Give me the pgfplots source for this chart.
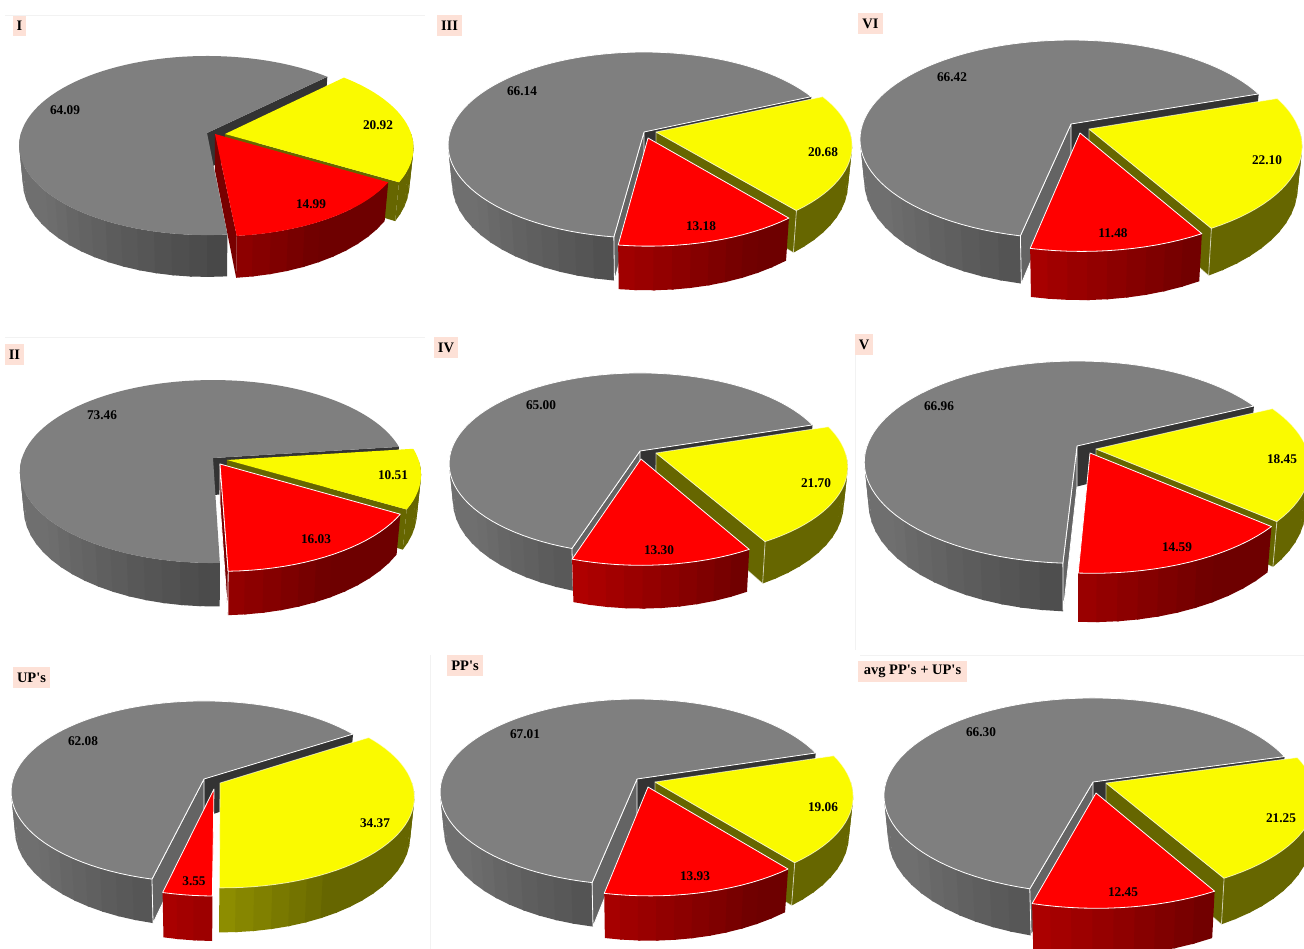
\documentclass[border=0pt]{standalone}
\usepackage{fontspec}
\setmainfont{Liberation Serif}
\usepackage{pgfplots}
\pgfplotsset{compat=1.18}

\definecolor{topGray}{HTML}{7F7F7F}
\definecolor{topYellow}{HTML}{FAFA00}
\definecolor{topRed}{HTML}{FF0000}
\definecolor{faceDark}{HTML}{333333}
\definecolor{faceGray}{HTML}{646464}
\definecolor{faceOlive}{HTML}{666600}
\definecolor{faceRed}{HTML}{780000}
\definecolor{tagFill}{HTML}{FDE1D7}
\definecolor{panelLine}{HTML}{F2F2F2}

% Perspective projection of the unit disc of one pie onto the page.
\newcommand{\addpt}[3]{% u, v, depth 0 (top face) or 1 (bottom face)
  \pgfmathsetmacro\pww{1+\pP*(#2)}%
  \pgfmathsetmacro\pxx{\pOx+(1-0.02*#3)*\pR*(#1)/\pww}%
  \pgfmathsetmacro\pyy{\pOy-\pB*(#2)/\pww+#3*\pH/\pww}%
  \xdef\coords{\coords (\pxx,\pyy)}%
}
\newcommand{\addrim}[4]{% angle, u0, v0, depth
  \pgfmathsetmacro\puu{#2+cos(#1)}%
  \pgfmathsetmacro\pvv{#3+sin(#1)}%
  \addpt{\puu}{\pvv}{#4}%
}
% Disc coordinates of a slice apex given in page coordinates.
\newcommand{\unproject}[4]{% X, Y, result u, result v
  \pgfmathsetmacro\paa{((#1)-\pOx)/\pR}%
  \pgfmathsetmacro\pbb{(\pOy-(#2))/\pB}%
  \pgfmathsetmacro#4{\pbb/(1-\pP*\pbb)}%
  \pgfmathsetmacro#3{\paa*(1+\pP*#4)}%
}
% Top face of a slice.
\newcommand{\slicetop}[6]{% u0, v0, angle a, angle b, fill, edge opacity
  \gdef\coords{}%
  \addpt{#1}{#2}{0}%
  \pgfmathtruncatemacro\pnn{ceil(abs((#4)-(#3))/3)}%
  \foreach \i in {0,...,\pnn}{%
    \pgfmathsetmacro\pth{(#3)+((#4)-(#3))/\pnn*\i}%
    \addrim{\pth}{#1}{#2}{0}%
  }%
  \edef\doplot{\noexpand\addplot[forget plot,fill=#5,draw=white,draw opacity=#6,line width=0.8pt,line join=round] coordinates {\coords} --cycle;}%
  \doplot
}
% Flat radial face of a slice.
\newcommand{\sliceface}[5]{% u0, v0, angle, fill, edge opacity
  \gdef\coords{}%
  \addpt{#1}{#2}{0}%
  \addrim{#3}{#1}{#2}{0}%
  \addrim{#3}{#1}{#2}{1}%
  \addpt{#1}{#2}{1}%
  \edef\doplot{\noexpand\addplot[forget plot,fill=#4,draw=white,draw opacity=#5,line width=0.8pt,line join=round] coordinates {\coords} --cycle;}%
  \doplot
}
% Curved outer wall of a slice, built from narrow facets that darken towards the right;
% each facet reaches slightly under the next so that no seam shows.
\newcommand{\slicewall}[8]{% u0, v0, angle a, angle b, red, green, blue base levels, brightness cap
  \pgfmathtruncatemacro\pmm{max(1,ceil(((#4)-(#3))/5))}%
  \foreach \j in {1,...,\pmm}{%
    \pgfmathsetmacro\pta{(#3)+((#4)-(#3))/\pmm*(\j-1)}%
    \pgfmathsetmacro\ptb{(#3)+((#4)-(#3))/\pmm*\j}%
    \pgfmathsetmacro\pff{min(#8,max(0.42,0.42+(-60-0.5*(\pta+\ptb))*0.0055))}%
    \pgfmathtruncatemacro\pcr{min(255,#5*\pff)}%
    \pgfmathtruncatemacro\pcg{min(255,#6*\pff)}%
    \pgfmathtruncatemacro\pcb{min(255,#7*\pff)}%
    \ifnum\j>1 \pgfmathsetmacro\pta{\pta-0.6}\fi
    \gdef\coords{}%
    \addrim{\pta}{#1}{#2}{0}%
    \addrim{\ptb}{#1}{#2}{0}%
    \addrim{\ptb}{#1}{#2}{1}%
    \addrim{\pta}{#1}{#2}{1}%
    \edef\doplot{\noexpand\addplot[forget plot,fill={rgb,255:red,\pcr;green,\pcg;blue,\pcb},draw=none] coordinates {\coords} --cycle;}%
    \doplot
  }%
}
% Camera of one pie: apex of the grey slice, radii, perspective, wall height, start angle.
\newcommand{\pieframe}[7]{%
  \def\pOx{#1}\def\pOy{#2}\def\pR{#3}\def\pB{#4}\def\pP{#5}\def\pH{#6}\def\pStart{#7}%
}
% Apex positions of the yellow and red slices.
\newcommand{\pieapex}[4]{%
  \unproject{#1}{#2}{\yu}{\yv}%
  \unproject{#3}{#4}{\ru}{\rv}%
}
% Three slices from their percentages, with the white edge strength of each.
\newcommand{\piedraw}[6]{%
  \pgfmathsetmacro\grayEnd{\pStart+3.6*(#1)}%
  \pgfmathsetmacro\yellowEnd{\pStart-3.6*(#2)}%
  \pgfmathsetmacro\redEnd{\yellowEnd-3.6*(#3)}%
  % grey slice
  \sliceface{0}{0}{\pStart}{faceDark}{0}%
  \pgfmathsetmacro\grayWall{\grayEnd-360}%
  \slicewall{0}{0}{-180}{\grayWall}{128}{128}{128}{0.87}%
  \pgfmathtruncatemacro\vis{cos(\grayEnd)<0 ? 1 : 0}%
  \ifnum\vis=1 \sliceface{0}{0}{\grayEnd}{faceGray}{#4}\fi
  \slicetop{0}{0}{\pStart}{\grayEnd}{topGray}{#4}%
  % yellow slice
  \slicewall{\yu}{\yv}{\yellowEnd}{0}{245}{245}{0}{1}%
  \pgfmathtruncatemacro\vis{cos(\yellowEnd)>0 ? 1 : 0}%
  \ifnum\vis=1 \sliceface{\yu}{\yv}{\yellowEnd}{faceOlive}{#5}\fi
  \slicetop{\yu}{\yv}{\yellowEnd}{\pStart}{topYellow}{#5}%
  % red slice
  \slicewall{\ru}{\rv}{\redEnd}{\yellowEnd}{262}{0}{0}{1}%
  \pgfmathtruncatemacro\vis{cos(\redEnd)>0 ? 1 : 0}%
  \ifnum\vis=1 \sliceface{\ru}{\rv}{\redEnd}{faceRed}{#6}\fi
  \slicetop{\ru}{\rv}{\redEnd}{\yellowEnd}{topRed}{#6}%
}
\newcommand{\val}[3]{\node[font=\fontsize{13.3}{15}\selectfont\bfseries,inner sep=0pt,text=black] at (axis cs:#1,#2) {#3};}
\newcommand{\tagbox}[5]{\node[fill=tagFill,font=\fontsize{14.5}{16}\selectfont\bfseries,inner sep=0pt,minimum width=#3pt,minimum height=#4pt,text=black] at (axis cs:#1,#2) {#5};}

\begin{document}
\begin{tikzpicture}
\begin{axis}[
  scale only axis, width=1304pt, height=949pt,
  xmin=0, xmax=1304, ymin=0, ymax=949, y dir=reverse,
  hide axis,
]
\path[use as bounding box] (axis cs:0,0) rectangle (axis cs:1304,949);

% faint panel frames
\addplot[forget plot,panelLine,line width=0.7pt] coordinates {(5,15) (425,15)};
\addplot[forget plot,panelLine,line width=0.7pt] coordinates {(5,337) (425,337)};
\addplot[forget plot,panelLine,line width=0.7pt] coordinates {(855,337) (855,650)};
\addplot[forget plot,panelLine,line width=0.7pt] coordinates {(430,655) (430,949)};
\addplot[forget plot,panelLine,line width=0.7pt] coordinates {(860,655) (1304,655)};

% I
\pieframe{207}{133}{186}{87.8}{0.14}{36}{44.7}
\pieapex{225}{134}{215}{134}
\piedraw{64.09}{20.92}{14.99}{0}{0}{0}
% III
\pieframe{644}{132}{194}{91.2}{0.14}{37.6}{24.2}
\pieapex{656}{132}{648}{138}
\piedraw{66.14}{20.68}{13.18}{1}{0.6}{1}
% VI
\pieframe{1071}{124}{208.5}{97}{0.155}{40.5}{19}
\pieapex{1089}{129}{1080}{133}
\piedraw{66.42}{22.10}{11.48}{1}{0.6}{1}
% II
\pieframe{213}{458}{191}{89.5}{0.148}{37}{7.3}
\pieapex{227}{460}{220}{464}
\piedraw{73.46}{10.51}{16.03}{0}{0}{1}
% IV
\pieframe{640}{451}{189}{89}{0.14}{36.7}{17.8}
\pieapex{656}{453}{641}{459}
\piedraw{65.00}{21.70}{13.30}{1}{0.6}{1}
% V
\pieframe{1077}{446}{210}{98.6}{0.16}{40.5}{25.7}
\pieapex{1096}{449}{1090}{453}
\piedraw{66.96}{18.45}{14.59}{1}{0.6}{1}
% UP's
\pieframe{204}{779}{191}{89}{0.14}{38}{32.9}
\pieapex{220}{783}{214}{789}
\piedraw{62.08}{34.37}{3.55}{1}{0.6}{1}
% PP's
\pieframe{637}{779}{195}{91.2}{0.14}{38}{17.3}
\pieapex{655}{782}{648}{787}
\piedraw{67.01}{19.06}{13.93}{1}{0.6}{1}
% avg PP's + UP's
\pieframe{1093}{782}{207}{95.8}{0.14}{40.4}{16}
\pieapex{1106}{783}{1096}{793}
\piedraw{66.30}{21.25}{12.45}{1}{0.6}{1}

% slice values
\val{65}{110}{64.09}\val{378}{125}{20.92}\val{311}{204}{14.99}
\val{522}{91}{66.14}\val{823}{152}{20.68}\val{701}{226}{13.18}
\val{952}{77}{66.42}\val{1267}{160}{22.10}\val{1113}{233}{11.48}
\val{102}{415}{73.46}\val{393}{475}{10.51}\val{316}{539}{16.03}
\val{541}{405}{65.00}\val{816}{483}{21.70}\val{659}{550}{13.30}
\val{939}{406}{66.96}\val{1282}{459}{18.45}\val{1177}{547}{14.59}
\val{83}{741}{62.08}\val{375}{823}{34.37}\val{194}{881}{3.55}
\val{525}{734}{67.01}\val{823}{807}{19.06}\val{695}{876}{13.93}
\val{981}{732}{66.30}\val{1281}{818}{21.25}\val{1123}{892}{12.45}

% panel tags
\tagbox{19.5}{26}{13}{20}{I}
\tagbox{449.5}{25.5}{25}{21}{III}
\tagbox{870.5}{23.5}{25}{21}{VI}
\tagbox{14.5}{355}{19}{21}{II}
\tagbox{446}{348}{24}{21}{IV}
\tagbox{864}{344.5}{18}{21}{V}
\tagbox{31.5}{677.5}{37}{21}{UP\textquotesingle s}
\tagbox{465}{665.5}{36}{21}{PP\textquotesingle s}
\tagbox{912.5}{671.5}{109}{21}{avg PP\textquotesingle s + UP\textquotesingle s}
\end{axis}
\end{tikzpicture}
\end{document}
